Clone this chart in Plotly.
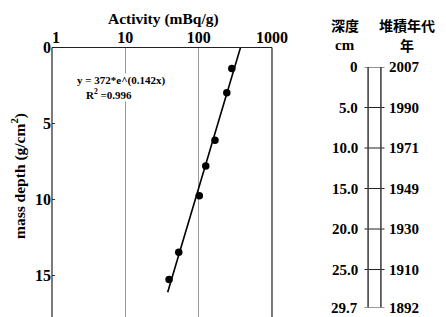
import plotly.graph_objects as go

W, H = 446, 317

# ---------------- data ----------------
activity = [283, 242, 167, 125, 102, 53.5, 39.5]          # mBq/g
mass_depth = [1.38, 2.98, 6.1, 7.8, 9.76, 13.47, 15.26]  # g/cm2
fit_depth = [0, 16.1]
fit_activity = [372, 37.8]
x_ticks = [1, 10, 100, 1000]
x_tick_labels = ["&nbsp;&nbsp;1", "10", "100", "1000"]
y_ticks = [0, 5, 10, 15]

col_depth = [0, 5.0, 10.0, 15.0, 20.0, 25.0, 29.7]
col_depth_labels = ["0", "5.0", "10.0", "15.0", "20.0", "25.0", "29.7"]
col_years = ["2007", "1990", "1971", "1949", "1930", "1910", "1892"]

SERIF = "Liberation Serif"
CJK = "Noto Sans CJK JP"


def px(p):
    return p / W


def py(p):
    return 1 - p / H


fig = go.Figure()

# fit line
fig.add_trace(go.Scatter(x=fit_activity, y=fit_depth, mode="lines",
                         line=dict(color="black", width=1.6),
                         hoverinfo="skip", showlegend=False))
# measured points
fig.add_trace(go.Scatter(x=activity, y=mass_depth, mode="markers",
                         marker=dict(color="black", size=7.5),
                         showlegend=False))

# column ticks (drawn on the second axes from the depth data)
tx, ty = [], []
for d in col_depth:
    tx += [-0.25, 0.25, None]
    ty += [d, d, None]
fig.add_trace(go.Scatter(x=tx, y=ty, mode="lines", xaxis="x2", yaxis="y2",
                         line=dict(color="#222", width=1),
                         hoverinfo="skip", showlegend=False))

annotations = []


def ann(text, x, y, size, family=SERIF, xanchor="center", **kw):
    d = dict(text=text, x=x, y=y, xref="paper", yref="paper", showarrow=False,
             xanchor=xanchor, yanchor="middle",
             font=dict(family=family, size=size, color="black"))
    d.update(kw)
    annotations.append(d)


# axis titles
ann("<b>Activity (mBq/g)</b>", px(163), py(19), 15.5)
ann("<b>mass depth (g/cm<sup>2</sup>)</b>", px(18), py(176), 15.5, textangle=-90)
# equation
ann("<b>y = 372*e^(0.142x)</b>", px(76), py(81), 11, xanchor="left",
    bgcolor="white", borderpad=0)
ann("<b>R<sup>2</sup> =0.996</b>", px(85), py(94), 11, xanchor="left",
    bgcolor="white", borderpad=0)

# right column headers
ann("<b>深度</b>", px(345), py(25), 14, family=CJK)
ann("<b>cm</b>", px(345), py(45), 15)
ann("<b>堆積年代</b>", px(407), py(25), 14, family=CJK)
ann("<b>年</b>", px(407), py(45), 14, family=CJK)

# column labels
for d, lab, yr in zip(col_depth, col_depth_labels, col_years):
    annotations.append(dict(text="<b>%s</b>" % lab, x=-0.37, y=d, xref="x2", yref="y2",
                            xanchor="right", yanchor="middle", showarrow=False,
                            font=dict(family=SERIF, size=15, color="black")))
    annotations.append(dict(text="<b>%s</b>" % yr, x=0.32, y=d, xref="x2", yref="y2",
                            xanchor="left", yanchor="middle", showarrow=False,
                            font=dict(family=SERIF, size=15, color="black")))

shapes = []
# main frame (left, top, right)
for x0, y0, x1, y1 in [(0, 0, 0, 1), (0, 1, 1, 1), (1, 0, 1, 1)]:
    shapes.append(dict(type="line", xref="x domain", yref="y domain",
                       x0=x0, y0=y0, x1=x1, y1=y1,
                       line=dict(color="#222", width=1.2)))
# column borders
for xv in [-0.16, 0.16]:
    shapes.append(dict(type="line", xref="x2", yref="y2",
                       x0=xv, x1=xv, y0=col_depth[0], y1=col_depth[-1],
                       line=dict(color="#444", width=1.6)))

fig.update_layout(
    width=W, height=H,
    margin=dict(l=0, r=0, t=0, b=0),
    paper_bgcolor="white", plot_bgcolor="white",
    font=dict(family=SERIF, size=16, color="black"),
    xaxis=dict(type="log", range=[0, 3], domain=[px(52), px(272)], side="top",
               tickvals=x_ticks, ticktext=["<b>%s</b>" % t for t in x_tick_labels],
               showgrid=True, gridcolor="#9a9a9a", gridwidth=1,
               showline=False, zeroline=False, ticks="", automargin=False,
               tickfont=dict(family=SERIF, size=16)),
    yaxis=dict(range=[17.73, 0], domain=[0, py(47.5)],
               tickvals=y_ticks, ticktext=["<b>%d</b>" % v for v in y_ticks],
               showgrid=False, showline=False, zeroline=False,
               ticks="inside", ticklen=3, tickcolor="#333", tickwidth=1,
               automargin=False, tickfont=dict(family=SERIF, size=16)),
    xaxis2=dict(range=[-1, 1], domain=[px(334.5), px(414.5)], anchor="y2",
                visible=False),
    yaxis2=dict(range=[col_depth[-1], col_depth[0]], domain=[py(307.6), py(67)],
                anchor="x2", visible=False),
    annotations=annotations,
    shapes=shapes,
)

fig.write_html("out.html", config={"displayModeBar": False},
               post_script="document.body.style.margin='0';document.body.style.overflow='hidden';")
